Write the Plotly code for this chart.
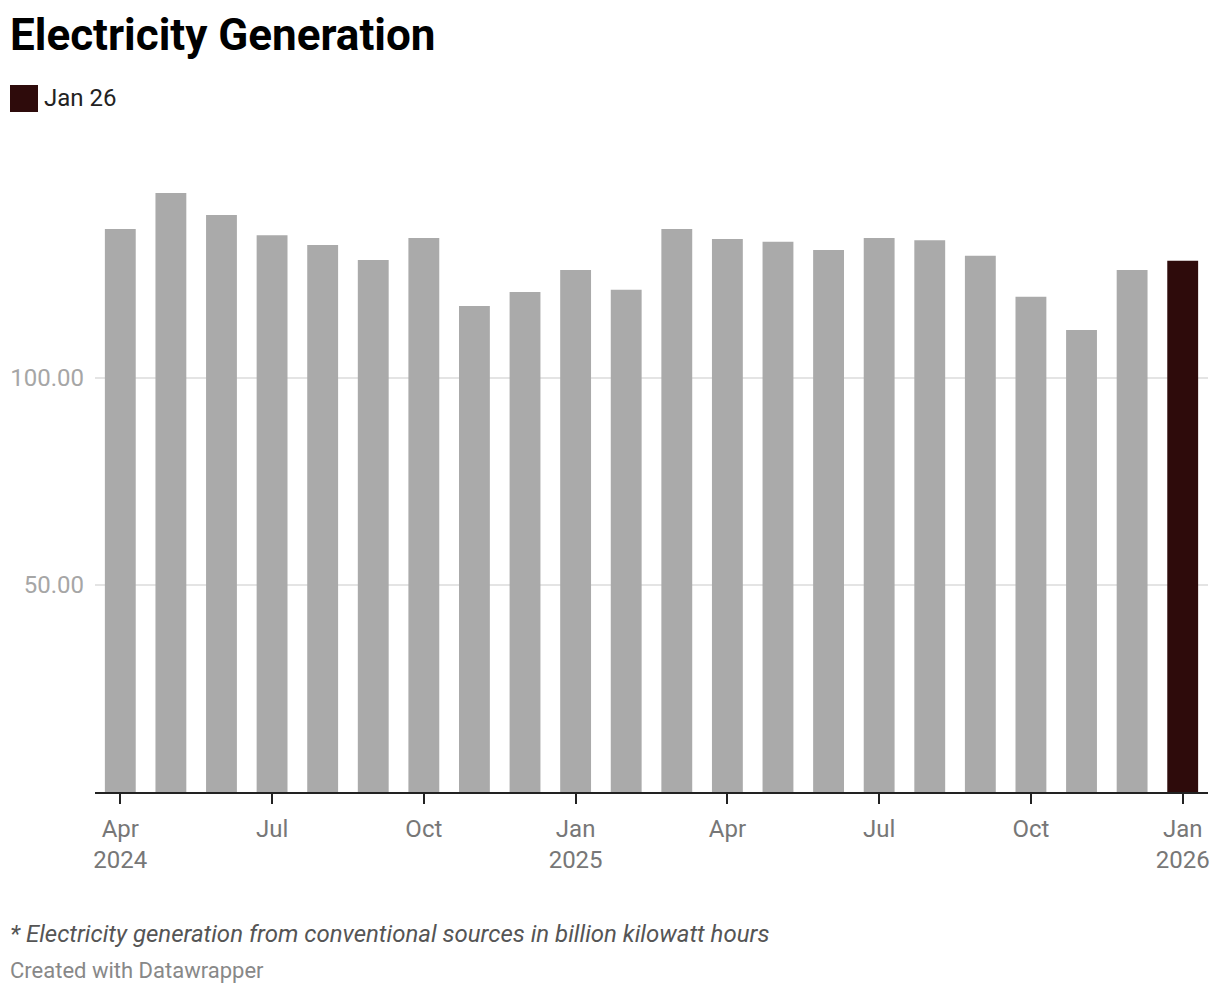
import plotly.graph_objects as go

# ---- data ----
months = ["2024-04", "2024-05", "2024-06", "2024-07", "2024-08", "2024-09",
          "2024-10", "2024-11", "2024-12", "2025-01", "2025-02", "2025-03",
          "2025-04", "2025-05", "2025-06", "2025-07", "2025-08", "2025-09",
          "2025-10", "2025-11", "2025-12", "2026-01"]
generation = [136.0, 144.7, 139.4, 134.5, 132.1, 128.5,
              133.8, 117.4, 120.8, 126.1, 121.3, 136.0,
              133.6, 132.9, 130.9, 133.8, 133.3, 129.5,
              119.6, 111.6, 126.1, 128.3]
highlight_label = "Jan 26"
tick_months = ["2024-04", "2024-07", "2024-10", "2025-01", "2025-04",
               "2025-07", "2025-10", "2026-01"]
tick_labels = ["Apr<br>2024", "Jul", "Oct", "Jan<br>2025", "Apr",
               "Jul", "Oct", "Jan<br>2026"]
y_ticks = [50, 100]

GRAY = "#aaaaaa"
DARK = "#2e0b0b"
colors = [GRAY] * (len(months) - 1) + [DARK]

fig = go.Figure()
fig.add_trace(go.Bar(
    x=months, y=generation, marker=dict(color=colors, line=dict(width=0)),
    showlegend=False, hoverinfo="x+y",
))

# page has 8px body margin -> work in screen coords minus 8
OFF = 8
W, H = 1220 - OFF, 994 - OFF
ml, mr, mt, mb = 95 - OFF, 12, 171 - OFF, 202


def px_x(x):
    return (x - OFF - ml) / (W - ml - mr)


def px_y(y):
    return (H - mb - (y - OFF)) / (H - mt - mb)


fig.update_layout(
    width=W, height=H,
    margin=dict(l=ml, r=mr, t=mt, b=mb),
    paper_bgcolor="white", plot_bgcolor="white",
    bargap=0.39,
    font=dict(family="Roboto", size=24, color="#777777"),
    xaxis=dict(
        type="category", range=[-0.5, len(months) - 0.5],
        tickmode="array", tickvals=tick_months, ticktext=tick_labels,
        ticks="outside", ticklen=10, tickwidth=2, tickcolor="#222222",
        showline=True, linewidth=2, linecolor="#222222",
        showgrid=False, tickfont=dict(size=24, color="#777777"),
        ticklabelstandoff=4, automargin=False,
    ),
    yaxis=dict(
        range=[0, 150], tickmode="array", tickvals=y_ticks,
        tickformat=".2f", showgrid=True, gridcolor="#e4e4e4", gridwidth=2,
        zeroline=False, showline=False, ticks="",
        tickfont=dict(size=24, color="#a6a6a6"),
        ticklabelstandoff=10, automargin=False,
    ),
    shapes=[dict(
        type="rect", xref="paper", yref="paper",
        x0=px_x(10), x1=px_x(38),
        y0=px_y(112), y1=px_y(85),
        fillcolor=DARK, line=dict(width=0),
    )],
)

fig.add_annotation(text="<b>Electricity Generation</b>", xref="paper", yref="paper",
                   x=px_x(8), y=px_y(35), xanchor="left", yanchor="middle",
                   showarrow=False, font=dict(family="Roboto", size=44, color="#000000"))
fig.add_annotation(text=highlight_label, xref="paper", yref="paper",
                   x=px_x(42), y=px_y(98), xanchor="left", yanchor="middle",
                   showarrow=False, font=dict(family="Roboto", size=24, color="#222222"))
fig.add_annotation(text="<i>* Electricity generation from conventional sources in billion kilowatt hours</i>",
                   xref="paper", yref="paper",
                   x=px_x(8), y=px_y(934), xanchor="left", yanchor="middle",
                   showarrow=False, font=dict(family="Roboto", size=24, color="#555555"))
fig.add_annotation(text="Created with Datawrapper", xref="paper", yref="paper",
                   x=px_x(8), y=px_y(970), xanchor="left", yanchor="middle",
                   showarrow=False, font=dict(family="Roboto", size=22, color="#888888"))

fig.write_html("out.html")
